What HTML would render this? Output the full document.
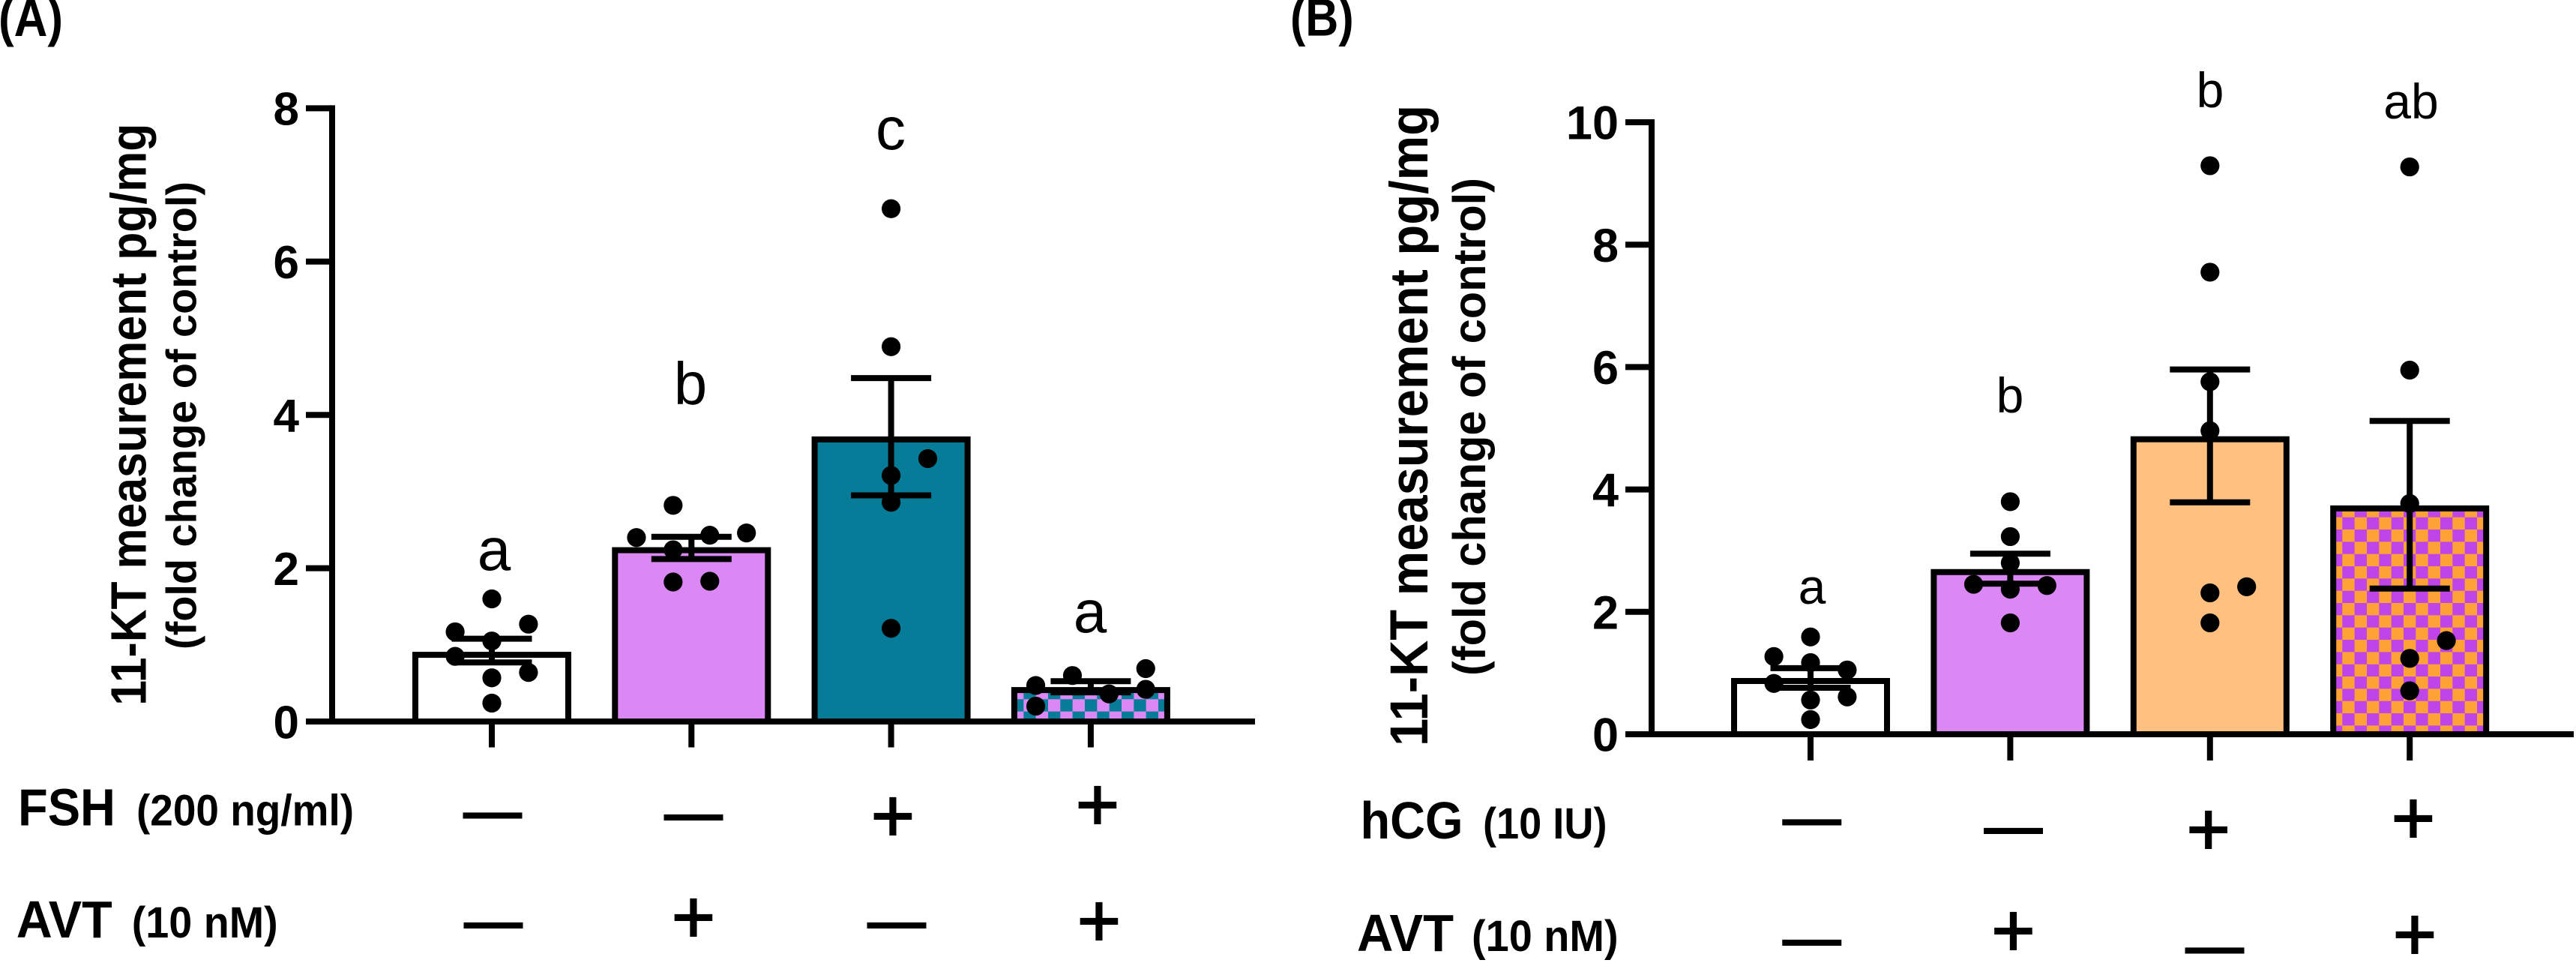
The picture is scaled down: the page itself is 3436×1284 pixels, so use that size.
<!DOCTYPE html>
<html>
<head>
<meta charset="utf-8">
<title>11-KT measurement</title>
<style>
html,body{margin:0;padding:0;background:#fff;}
svg{display:block;font-family:"Liberation Sans",Arial,sans-serif;}
.b{font-weight:700;}
</style>
</head>
<body>
<svg id="fig" xmlns="http://www.w3.org/2000/svg" width="3436" height="1284" viewBox="0 0 3436 1284">
<defs>
<pattern id="checkA" patternUnits="userSpaceOnUse" x="1414.3" y="932.3" width="32.67" height="32.67">
<rect width="32.67" height="32.67" fill="#DC88F4"/><rect width="16.33" height="16.33" fill="#067C99"/><rect x="16.33" y="16.33" width="16.33" height="16.33" fill="#067C99"/>
</pattern>
<pattern id="checkB" patternUnits="userSpaceOnUse" x="3124.3" y="689.7" width="32.67" height="32.67">
<rect width="32.67" height="32.67" fill="#FFA236"/><rect width="16.33" height="16.33" fill="#BF45E8"/><rect x="16.33" y="16.33" width="16.33" height="16.33" fill="#BF45E8"/>
</pattern>
</defs>
<rect width="3436" height="1284" fill="#fff"/>

<text class="b" transform="translate(-2,48) scale(1,1.13)" font-size="62">(A)</text>
<text class="b" transform="translate(1721,47.3) scale(1,1.15)" font-size="61">(B)</text>

<g id="panelA"></g>
<g id="panelB"></g>

<text class="b" transform="translate(194.5,940.7) rotate(-90)" font-size="67" textLength="776" lengthAdjust="spacingAndGlyphs">11-KT measurement pg/mg</text>
<text class="b" transform="translate(261.5,866) rotate(-90)" font-size="57" textLength="624" lengthAdjust="spacingAndGlyphs">(fold change of control)</text>
<text class="b" transform="translate(1904,995) rotate(-90)" font-size="71" textLength="855" lengthAdjust="spacingAndGlyphs">11-KT measurement pg/mg</text>
<text class="b" transform="translate(1981,901) rotate(-90)" font-size="61" textLength="664" lengthAdjust="spacingAndGlyphs">(fold change of control)</text>

<g font-size="80" text-anchor="middle">
<text x="659" y="760">a</text>
<text x="921" y="539">b</text>
<text x="1188" y="199">c</text>
<text x="1454" y="843">a</text>
</g>
<g font-size="66" text-anchor="middle">
<text x="2417" y="805">a</text>
<text x="2681" y="550">b</text>
<text x="2948" y="143">b</text>
<text x="3216" y="158">ab</text>
</g>

<text class="b" x="24" y="1100.7" font-size="70" textLength="130" lengthAdjust="spacingAndGlyphs">FSH</text>
<text class="b" x="182" y="1100.7" font-size="58" textLength="290" lengthAdjust="spacingAndGlyphs">(200 ng/ml)</text>
<text class="b" x="21.7" y="1250" font-size="70" textLength="128" lengthAdjust="spacingAndGlyphs">AVT</text>
<text class="b" x="175.7" y="1250" font-size="58" textLength="195" lengthAdjust="spacingAndGlyphs">(10 nM)</text>
<text class="b" x="1814.5" y="1118" font-size="70" textLength="137" lengthAdjust="spacingAndGlyphs">hCG</text>
<text class="b" x="1978" y="1118" font-size="58" textLength="165.5" lengthAdjust="spacingAndGlyphs">(10 IU)</text>
<text class="b" x="1810" y="1268" font-size="70" textLength="129" lengthAdjust="spacingAndGlyphs">AVT</text>
<text class="b" x="1963" y="1268" font-size="58" textLength="195.6" lengthAdjust="spacingAndGlyphs">(10 nM)</text>

<g text-anchor="middle" fill="#000" stroke="#000">
<g font-size="76" stroke-width="3">
<text x="657" y="1107">—</text>
<text x="925" y="1109.7">—</text>
<text x="658" y="1253.7">—</text>
<text x="1196" y="1253.7">—</text>
<text x="2416.7" y="1116">—</text>
<text x="2685.5" y="1127.7">—</text>
<text x="2416.7" y="1276.7">—</text>
<text x="2954" y="1287">—</text>
</g>
<g font-size="100" stroke-width="2">
<text x="1191" y="1122">+</text>
<text x="1464" y="1107">+</text>
<text x="925" y="1257">+</text>
<text x="1466" y="1262">+</text>
<text x="2945.7" y="1140">+</text>
<text x="3218.9" y="1125">+</text>
<text x="2685.5" y="1275">+</text>
<text x="3221" y="1280">+</text>
</g>
</g>
</svg>
<script>
// Panel A data
const aCategories = ['control', 'avt', 'fsh', 'fsh-avt'];
const aMeans = [0.87, 2.235, 3.68, 0.41];
const aErrUpper = [1.08, 2.41, 4.48, 0.526];
const aErrLower = [0.77, 2.12, 2.95, 0.38];
const aTicks = [0, 2, 4, 6, 8];
const aPoints = [
  [1.6, 1.17, 1.27, 1.05, 0.85, 0.64, 0.57, 0.24],
  [2.40, 2.82, 2.43, 2.46, 2.24, 1.82, 1.83],
  [6.69, 4.89, 3.43, 3.21, 2.86, 1.216],
  [0.47, 0.2, 0.6, 0.36, 0.69, 0.42]
];
const aColumns = [
  [0, -1, 1, 0, -1, 1, 0, 0],
  [-1.5, -0.5, 0.5, 1.5, -0.5, -0.5, 0.5],
  [0, 0, 1, 0, 0, 0],
  [-1.5, -1.5, -0.5, 0.5, 1.5, 1.5]
];

// Panel B data
const bCategories = ['control', 'avt', 'hcg', 'hcg-avt'];
const bMeans = [0.87, 2.65, 4.82, 3.69];
const bErrUpper = [1.08, 2.95, 5.96, 5.12];
const bErrLower = [0.76, 2.46, 3.79, 2.38];
const bTicks = [0, 2, 4, 6, 8, 10];
const bPoints = [
  [1.59, 1.27, 1.05, 1.17, 0.83, 0.61, 0.56, 0.24],
  [3.80, 3.23, 2.80, 2.45, 2.43, 2.37, 1.82],
  [9.29, 7.55, 5.76, 4.96, 2.31, 2.41, 1.82],
  [9.27, 5.95, 3.77, 1.53, 1.24, 0.71]
];
const bColumns = [
  [0, -1, 1, 0, -1, 1, 0, 0],
  [0, 0, 0, -1, 1, 0, 0],
  [0, 0, 0, 0, 0, 1, 0],
  [0, 0, 0, 1, 0, 0]
];

const SVGNS = 'http://www.w3.org/2000/svg';
function make(tag, parent, attrs) {
  const e = document.createElementNS(SVGNS, tag);
  for (const k in attrs) e.setAttribute(k, attrs[k]);
  parent.appendChild(e);
  return e;
}

function drawPanel(g, cfg) {
  const y = cfg.y, x = cfg.x;
  const sw = 8;
  // bars
  cfg.means.forEach(function (m, i) {
    const bar = make('rect', g, {
      x: x(i) - cfg.barW / 2, y: y(m), width: cfg.barW, height: y(0) - y(m),
      fill: cfg.fills[i], stroke: '#000', 'stroke-width': sw
    });
    
    
  });
  // y axis
  const axisY = make('line', g, { x1: cfg.axisX, x2: cfg.axisX, y1: y(cfg.ticks[cfg.ticks.length - 1]) - sw / 2, y2: y(0) + sw / 2, stroke: '#000', 'stroke-width': sw });
  
  
  const axisX = make('line', g, { x1: cfg.tickLeft, x2: cfg.axisEnd, y1: y(0), y2: y(0), stroke: '#000', 'stroke-width': sw });
  
  
  // y ticks and labels
  cfg.ticks.forEach(function (t) {
    const tick = make('line', g, { x1: cfg.tickLeft, x2: cfg.axisX, y1: y(t), y2: y(t), stroke: '#000', 'stroke-width': sw });
    
    
    const lab = make('text', g, { x: cfg.labelRight, y: y(t) + cfg.labelSize * 0.36, 'text-anchor': 'end', 'font-size': cfg.labelSize, 'font-weight': 700 });
    lab.textContent = String(t);
    
    
  });
  // x ticks
  cfg.means.forEach(function (m, i) {
    const tick = make('line', g, { x1: x(i), x2: x(i), y1: y(0), y2: cfg.tickBottom, stroke: '#000', 'stroke-width': sw });
    
    
  });
  // error bars
  cfg.means.forEach(function (m, i) {
    const eg = make('g', g, { stroke: '#000', 'stroke-width': sw });
    
    
    make('line', eg, { x1: x(i), x2: x(i), y1: y(cfg.upper[i]), y2: y(cfg.lower[i]) });
    make('line', eg, { x1: x(i) - 53.5, x2: x(i) + 53.5, y1: y(cfg.upper[i]), y2: y(cfg.upper[i]) });
    make('line', eg, { x1: x(i) - 53.5, x2: x(i) + 53.5, y1: y(cfg.lower[i]), y2: y(cfg.lower[i]) });
  });
  // data points
  cfg.points.forEach(function (vals, i) {
    vals.forEach(function (v, j) {
      const dot = make('circle', g, { cx: x(i) + cfg.columns[i][j] * 48.9, cy: y(v), r: 12.6, fill: '#000' });
      
      
    });
  });
}

drawPanel(document.getElementById('panelA'), {
  cats: aCategories, means: aMeans, upper: aErrUpper, lower: aErrLower, ticks: aTicks,
  points: aPoints, columns: aColumns,
  fills: ['#ffffff', '#DC88F4', '#067C99', 'url(#checkA)'],
  y: function (v) { return 962 - v * 102.2; },
  x: function (i) { return 656 + i * 266.3; },
  barW: 204, axisX: 443, tickLeft: 408, axisEnd: 1674, tickBottom: 996.5,
  labelRight: 399, labelSize: 62
});
drawPanel(document.getElementById('panelB'), {
  cats: bCategories, means: bMeans, upper: bErrUpper, lower: bErrLower, ticks: bTicks,
  points: bPoints, columns: bColumns,
  fills: ['#ffffff', '#DC88F4', '#FFC080', 'url(#checkB)'],
  y: function (v) { return 979 - v * 81.6; },
  x: function (i) { return 2415 + i * 266.4; },
  barW: 204, axisX: 2203, tickLeft: 2168, axisEnd: 3433, tickBottom: 1014,
  labelRight: 2159, labelSize: 63
});
</script>
</body>
</html>
